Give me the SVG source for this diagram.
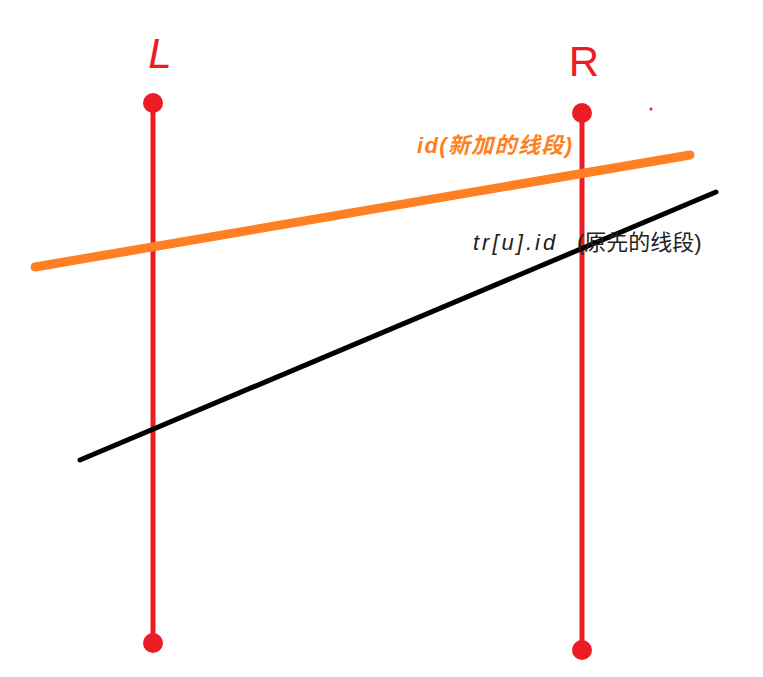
<svg xmlns="http://www.w3.org/2000/svg" width="763" height="677" viewBox="0 0 763 677">
<style>
.bound{stroke:#ec1c24;stroke-width:5;fill:none}
.dot{fill:#ec1c24}
.lbl{font-family:"Liberation Sans","Noto Sans CJK SC",sans-serif;font-size:22px}
.big{font-family:"Liberation Sans",sans-serif;font-size:42px;fill:#ec1c24;font-style:italic}
</style>
<rect width="763" height="677" fill="#ffffff"/>
<g id="L">
<line class="bound" x1="153" y1="103" x2="153" y2="643"/>
<circle class="dot" cx="153" cy="103" r="10"/>
<circle class="dot" cx="153" cy="643" r="10"/>
<text class="big" x="160" y="68" text-anchor="middle">L</text>
</g>
<g id="R">
<line class="bound" x1="582" y1="113" x2="582" y2="650"/>
<circle class="dot" cx="582" cy="113" r="10"/>
<circle class="dot" cx="582" cy="650" r="10"/>
<text class="big" x="584" y="76" text-anchor="middle" style="font-style:normal">R</text>
<circle class="dot" cx="651" cy="109" r="1.5"/>
</g>
<g id="connectors">
<line id="orange" x1="35" y1="267" x2="690" y2="155" stroke="#ff8022" stroke-width="9" stroke-linecap="round"/>
<line id="black" x1="80" y1="460" x2="716" y2="192" stroke="#000000" stroke-width="5" stroke-linecap="round"/>
</g>
<g id="labels">
<text class="lbl" x="417" y="153" fill="#ff8022" font-style="italic" font-weight="bold" textLength="155" lengthAdjust="spacing">id(新加的线段)</text>
<text class="lbl" x="473" y="250" fill="#222222"><tspan font-style="italic" letter-spacing="3">tr[u].id</tspan><tspan x="577">(原先的线段)</tspan></text>
</g>
</svg>
